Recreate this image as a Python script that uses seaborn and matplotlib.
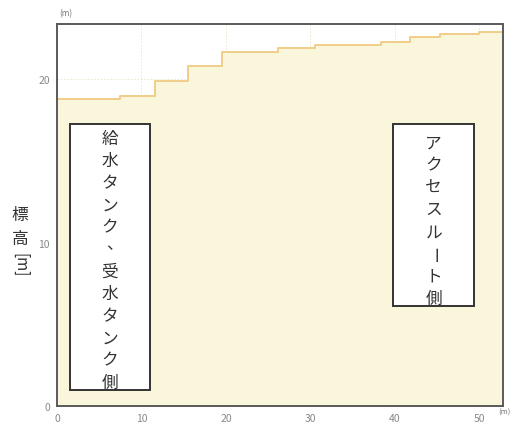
import matplotlib
matplotlib.use("Agg")
import matplotlib.pyplot as plt
import seaborn as sns
import pandas as pd
from matplotlib.patches import Rectangle

# Ground profile: distance (m) where each level starts, and elevation (m)
distance = [0.0, 7.5, 11.6, 15.5, 19.5, 26.2, 30.6, 38.3, 41.8, 45.4, 50.0, 52.8]
elevation = [18.8, 19.0, 19.9, 20.8, 21.7, 21.9, 22.1, 22.3, 22.6, 22.8, 22.9, 22.9]

x_ticks = [0, 10, 20, 30, 40, 50]
y_ticks = [0, 10, 20]

left_label = "給水タンク、受水タンク側"
right_label = "アクセスルート側"
y_label = ["標", "高", "[m]"]
unit = "(m)"

sns.set_theme(style="white")
plt.rcParams["font.family"] = ["Noto Sans CJK JP", "DejaVu Sans"]

df = pd.DataFrame({"distance": distance, "elevation": elevation})

fig = plt.figure(figsize=(5.13, 4.27), dpi=100)
ax = fig.add_axes([0.111, 0.047, 0.8695, 0.8945])

ax.fill_between(df["distance"], 0, df["elevation"], step="post",
                color="#faf6dc", linewidth=0, zorder=1)
sns.lineplot(data=df, x="distance", y="elevation", drawstyle="steps-post",
             color="#f0cd88", linewidth=1.4, ax=ax, zorder=2)

ax.set_xlim(0, 52.8)
ax.set_ylim(0, 23.4)
ax.set_xticks(x_ticks)
ax.set_yticks(y_ticks)
ax.set_xlabel("")
ax.set_ylabel("")
ax.grid(True, color="#e9e4cf", linewidth=0.6, linestyle=(0, (2, 2)), zorder=1.5)
ax.tick_params(axis="both", labelsize=7.5, colors="#888888", length=3,
               width=0.8, direction="out", pad=2)
for s in ax.spines.values():
    s.set_color("#5a5a5a")
    s.set_linewidth(1.4)

# Unit captions
ax.text(0.3, 24.1, unit, fontsize=6, color="#777777", ha="left", va="center")
fig.text(0.996, 0.042, unit, fontsize=5.5, color="#777777", ha="right", va="top")

def vertical_text(ax, text, x, y_top, step, size):
    y = y_top
    for ch in text:
        if ch == "ー":
            ax.text(x, y, ch, rotation=-90, fontsize=size, ha="center",
                    va="center", color="#333333", zorder=5)
        elif ch == "、":
            ax.text(x + 0.6, y + 0.35, ch, fontsize=size, ha="center",
                    va="center", color="#333333", zorder=5)
        else:
            ax.text(x, y, ch, fontsize=size, ha="center", va="center",
                    color="#333333", zorder=5)
        y -= step

# Label boxes
ax.add_patch(Rectangle((1.5, 1.0), 9.5, 16.3, facecolor="white",
                       edgecolor="#333333", linewidth=1.4, zorder=4))
ax.add_patch(Rectangle((39.8, 6.1), 9.6, 11.2, facecolor="white",
                       edgecolor="#333333", linewidth=1.4, zorder=4))

vertical_text(ax, left_label, 6.25, 16.4, 1.36, 12)
vertical_text(ax, right_label, 44.6, 16.1, 1.36, 12)

# Vertical axis title, stacked
fig.text(0.039, 0.495, y_label[0], fontsize=12, ha="center", va="center", color="#333333")
fig.text(0.039, 0.438, y_label[1], fontsize=12, ha="center", va="center", color="#333333")
fig.text(0.039, 0.378, y_label[2], fontsize=11, ha="center", va="center",
         rotation=-90, color="#333333")

fig.savefig("out.png", dpi=100, facecolor="white")
